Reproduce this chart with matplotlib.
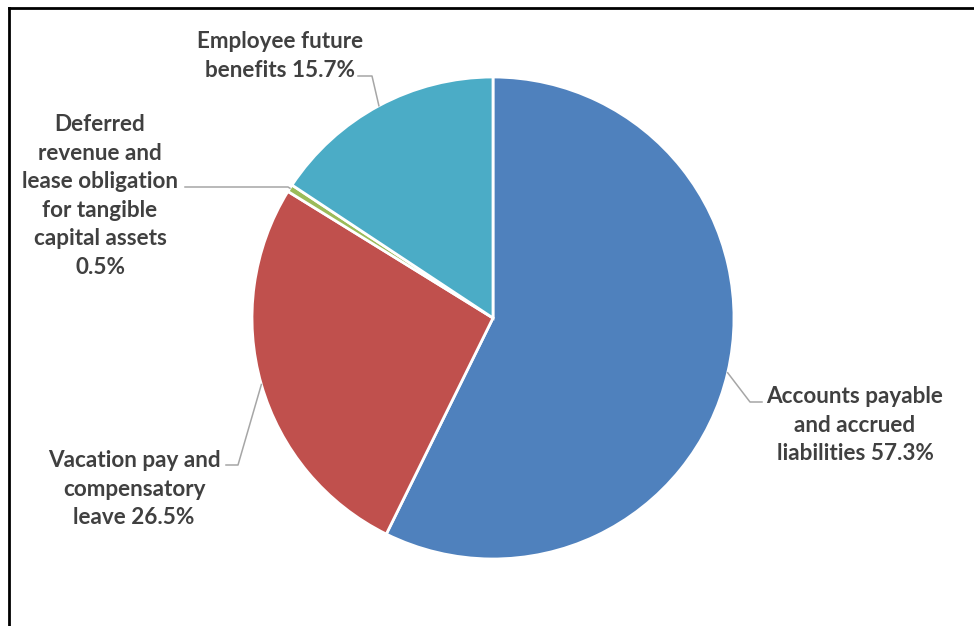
import numpy as np
import matplotlib
matplotlib.use("Agg")
import matplotlib.pyplot as plt
from matplotlib.lines import Line2D

# ---- data ----
categories = [
    "Accounts payable\nand accrued\nliabilities",
    "Vacation pay and\ncompensatory\nleave",
    "Deferred\nrevenue and\nlease obligation\nfor tangible\ncapital assets",
    "Employee future\nbenefits",
]
values = [57.3, 26.5, 0.5, 15.7]
colors = ["#4F81BD", "#C0504D", "#9BBB59", "#4BACC6"]
label_sep = [" ", " ", "\n", " "]

W, H = 974, 626
fig = plt.figure(figsize=(W / 100, H / 100), dpi=100)
fig.patch.set_facecolor("white")

cx, cy, R = 493, 318, 241  # pixel layout of the pie
ax = fig.add_axes([(cx - R) / W, (H - cy - R) / H, 2 * R / W, 2 * R / H])

wedges, _ = ax.pie(values, colors=colors, startangle=90, counterclock=False,
                   radius=1, center=(0, 0), frame=False,
                   wedgeprops=dict(edgecolor="white", linewidth=2))
ax.set_xlim(-1, 1)
ax.set_ylim(-1, 1)
ax.set_aspect("equal")
ax.axis("off")

def px(x, y):
    return ((x - cx) / R, (cy - y) / R)

# label layout (pixel positions): text center, elbow point, line end at text
layout = [
    dict(text=(855, 425), elbow=(750, 402), end=(762, 402)),
    dict(text=(134, 489), elbow=(238, 465), end=(226, 465)),
    dict(text=(100, 196), elbow=(288, 187), end=(185, 187)),
    dict(text=(280, 56), elbow=(372, 76), end=(358, 76)),
]

txt_color = "#404040"
for w, cat, v, sep, lay in zip(wedges, categories, values, label_sep, layout):
    mid = np.deg2rad((w.theta1 + w.theta2) / 2)
    ax_pt = (np.cos(mid), np.sin(mid))
    e = px(*lay["elbow"])
    en = px(*lay["end"])
    ax.plot([ax_pt[0], e[0], en[0]], [ax_pt[1], e[1], en[1]],
            color="#A6A6A6", lw=1.1, clip_on=False, zorder=1)
    t = px(*lay["text"])
    ax.text(t[0], t[1], f"{cat}{sep}{v:.1f}%", ha="center", va="center",
            fontsize=16.2, fontweight="bold", family="Lato", color=txt_color,
            linespacing=1.45, clip_on=False)

# border (top and left)
fig.add_artist(Line2D([8.5 / W, 1.0], [1 - 8 / H, 1 - 8 / H],
                      transform=fig.transFigure, color="black", lw=2))
fig.add_artist(Line2D([8.5 / W, 8.5 / W], [0, 1 - 8 / H],
                      transform=fig.transFigure, color="black", lw=2))

fig.savefig("out.png", dpi=100)
